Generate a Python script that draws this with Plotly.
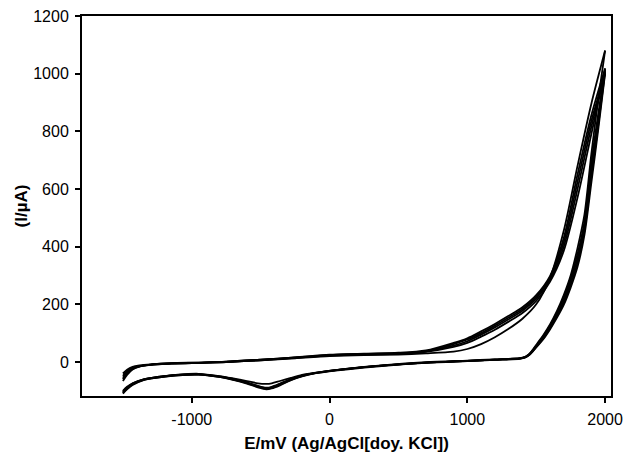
import plotly.graph_objects as go

# Potential grid (mV) for the anodic (forward) and cathodic (reverse) sweeps
FWD_E = [-1500, -1470, -1430, -1380, -1300, -1150, -950, -750, -500, -250, 0, 250, 500,
         700, 900, 1000, 1100, 1200, 1300, 1400, 1500, 1600, 1700, 1800, 1900, 2000]
REV_E = [2000, 1950, 1900, 1850, 1800, 1750, 1700, 1650, 1600, 1550, 1510, 1480, 1450,
         1420, 1380, 1200, 1000, 700, 400, 100, -100, -200, -280, -360, -420, -460,
         -520, -600, -700, -800, -950, -1100, -1250, -1350, -1430, -1470, -1500]

# Current (uA) per cycle, forward sweep
FWD_C1 = [-66, -45, -26, -16, -10, -6, -3, 0, 6, 13, 20, 24, 26, 30, 36, 45, 62, 86, 115, 150, 200, 292, 455, 680, 895, 1080]
FWD_C2 = [-48, -32, -20, -14, -9, -5, -3, 0, 6, 14, 22, 26, 28, 35, 52, 66, 88, 112, 140, 170, 212, 278, 385, 570, 790, 1012]
FWD_C3 = [-40, -27, -17, -12, -8, -4, -2, 1, 8, 16, 24, 28, 30, 38, 57, 72, 95, 120, 148, 178, 220, 285, 400, 600, 815, 1005]
FWD_C4 = [-55, -36, -22, -15, -10, -6, -3, 0, 7, 15, 23, 27, 29, 37, 62, 78, 100, 126, 154, 184, 226, 292, 415, 625, 835, 1000]
FWD_C5 = [-60, -40, -24, -15, -9, -5, -2, 1, 8, 16, 25, 29, 32, 40, 66, 82, 106, 132, 160, 190, 232, 298, 430, 650, 855, 1018]

# Current (uA) per cycle, reverse sweep
REV_C1 = [1080, 910, 720, 510, 395, 300, 232, 176, 130, 92, 66, 46, 28, 18, 13, 9, 5, -1, -11, -25, -37, -45, -55, -66, -74, -76, -74, -66, -57, -49, -41, -44, -52, -60, -74, -86, -100]
REV_C2 = [1012, 840, 665, 470, 360, 280, 212, 163, 121, 84, 60, 42, 26, 17, 12, 8, 4, -2, -12, -26, -38, -48, -60, -77, -88, -91, -84, -72, -60, -51, -43, -45, -53, -61, -76, -90, -105]
REV_C3 = [1005, 820, 640, 455, 345, 268, 205, 158, 117, 81, 58, 40, 25, 16, 12, 8, 4, -2, -12, -26, -39, -49, -62, -79, -90, -93, -86, -73, -61, -52, -44, -46, -54, -62, -78, -92, -108]
REV_C4 = [1000, 805, 620, 440, 330, 258, 198, 153, 113, 78, 56, 39, 24, 16, 11, 7, 3, -3, -13, -27, -39, -50, -63, -81, -92, -95, -88, -75, -62, -52, -44, -46, -54, -63, -80, -95, -110]
REV_C5 = [1018, 860, 690, 485, 375, 290, 222, 170, 126, 88, 62, 44, 27, 17, 13, 8, 4, -2, -12, -25, -38, -47, -59, -75, -86, -89, -83, -71, -59, -50, -42, -45, -52, -60, -75, -89, -103]

FWD = [FWD_C1, FWD_C2, FWD_C3, FWD_C4, FWD_C5]
REV = [REV_C1, REV_C2, REV_C3, REV_C4, REV_C5]

X_TICKS = [-1000, 0, 1000, 2000]
X_LABELS = ["-1000", "0", "1000", "2000"]
Y_TICKS = [0, 200, 400, 600, 800, 1000, 1200]
Y_LABELS = ["0", "200", "400", "600", "800", "1000", "1200"]

FONT = "Liberation Sans, Arial, sans-serif"

fig = go.Figure()
for f, r in zip(FWD, REV):
    for xs, ys in ((FWD_E, f), (REV_E, r)):
        fig.add_trace(go.Scatter(
            x=xs, y=ys, mode="lines",
            line=dict(color="black", width=1.8, shape="spline", smoothing=0.8),
            showlegend=False, hoverinfo="skip",
        ))

axis_common = dict(
    showline=True, linecolor="black", linewidth=2, mirror=True,
    ticks="outside", ticklen=5, tickwidth=1.5, tickcolor="black",
    showgrid=False, zeroline=False, automargin=False,
    ticklabelstandoff=3,
    tickfont=dict(family=FONT, size=16, color="black"),
)

fig.update_layout(
    width=626, height=458,
    margin=dict(l=82, r=15, t=16, b=62, autoexpand=False),
    paper_bgcolor="white", plot_bgcolor="white",
    xaxis=dict(range=[-1797, 2043], tickvals=X_TICKS, ticktext=X_LABELS,
               title=dict(text="<b>E/mV (Ag/AgCl[doy. KCl])</b>", standoff=10,
                          font=dict(family=FONT, size=17, color="black")),
               **axis_common),
    yaxis=dict(range=[-118, 1200], tickvals=Y_TICKS, ticktext=Y_LABELS,
               title=dict(text="<b>(I/µA)</b>", standoff=1,
                          font=dict(family=FONT, size=17, color="black")),
               **axis_common),
)

fig.write_html("out.html")
